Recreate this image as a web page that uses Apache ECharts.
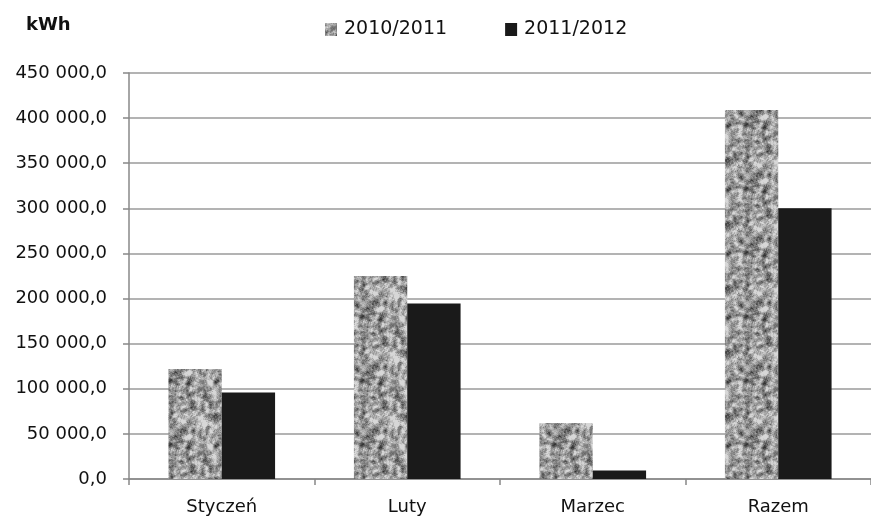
<!DOCTYPE html>
<html>
<head>
<meta charset="utf-8">
<script src="https://cdn.jsdelivr.net/npm/echarts@6/dist/echarts.min.js"></script>
<style>
html,body{margin:0;padding:0;background:#fff;}
#c{width:871px;height:519px;}
</style>
</head>
<body>
<div id="c"></div>
<script>
var categories = ['Styczeń', 'Luty', 'Marzec', 'Razem'];
var seriesNames = ['2010/2011', '2011/2012'];
var values2010 = [122000, 225000, 62000, 409000];
var values2011 = [96000, 194500, 9500, 300000];
var yTicks = [0, 50000, 100000, 150000, 200000, 250000, 300000, 350000, 400000, 450000];

// deterministic speckled texture for the grey series
function makeTexture() {
  var s = 64;
  var cv = document.createElement('canvas');
  cv.width = s; cv.height = s;
  var ctx = cv.getContext('2d');
  var img = ctx.createImageData(s, s);
  var seed = 12345;
  function rnd() { seed = (seed * 1103515245 + 12345) & 0x7fffffff; return seed / 0x7fffffff; }
  var grid = [];
  for (var i = 0; i < s * s; i++) grid.push(rnd());
  for (var y = 0; y < s; y++) {
    for (var x = 0; x < s; x++) {
      var sum = 0, n = 0;
      for (var dy = -2; dy <= 2; dy++) for (var dx = -2; dx <= 2; dx++) {
        if (dx * dx + dy * dy > 5) continue;
        sum += grid[((y + dy + s) % s) * s + ((x + dx + s) % s)]; n++;
      }
      var v = sum / n;
      var g = Math.max(50, Math.min(215, Math.round(155 + (v - 0.5) * 560)));
      var k = (y * s + x) * 4;
      img.data[k] = g; img.data[k + 1] = g; img.data[k + 2] = g; img.data[k + 3] = 255;
    }
  }
  ctx.putImageData(img, 0, 0);
  return cv;
}
var tex = makeTexture();

function fmt(v) {
  var s = String(Math.round(v));
  s = s.replace(/\B(?=(\d{3})+(?!\d))/g, ' ');
  return s + ',0';
}

var FONT = 'DejaVu Sans';
var chart = echarts.init(document.getElementById('c'));
chart.setOption({
  animation: false,
  backgroundColor: '#fff',
  textStyle: { fontFamily: FONT },
  graphic: [{
    type: 'text', left: 26, top: 16,
    style: { text: 'kWh', font: 'bold 18px "DejaVu Sans"', fill: '#111' }
  }],
  legend: {
    top: 15, left: 320,
    itemWidth: 12, itemHeight: 13, itemGap: 58,
    textStyle: { fontSize: 19, color: '#111', fontFamily: FONT, padding: [0, 0, 0, 2] },
    data: [
      { name: seriesNames[0], icon: 'rect' },
      { name: seriesNames[1], icon: 'rect' }
    ]
  },
  grid: { left: 129, top: 73, width: 752, height: 406 },
  xAxis: {
    type: 'category',
    data: categories,
    axisLine: { lineStyle: { color: '#888', width: 1.5 } },
    axisTick: { show: true, length: 6, lineStyle: { color: '#888', width: 1.5 } },
    axisLabel: { fontSize: 18, color: '#111', margin: 19, fontFamily: FONT }
  },
  yAxis: {
    type: 'value',
    min: 0, max: 450000, interval: 50000,
    axisLine: { show: true, lineStyle: { color: '#888', width: 1.5 } },
    axisTick: { show: true, length: 6, lineStyle: { color: '#888', width: 1.5 } },
    splitLine: { lineStyle: { color: '#9a9a9a', width: 1.5 } },
    axisLabel: { fontSize: 18, color: '#111', margin: 22, fontFamily: FONT,
      formatter: function (v) { return yTicks.indexOf(v) >= 0 ? fmt(v) : ''; } }
  },
  series: [
    {
      name: seriesNames[0], type: 'bar', data: values2010,
      barGap: '0%', barCategoryGap: '42.5%',
      itemStyle: { color: { image: tex, repeat: 'repeat' } }
    },
    {
      name: seriesNames[1], type: 'bar', data: values2011,
      itemStyle: { color: '#1a1a1a' }
    }
  ]
});
</script>
</body>
</html>
